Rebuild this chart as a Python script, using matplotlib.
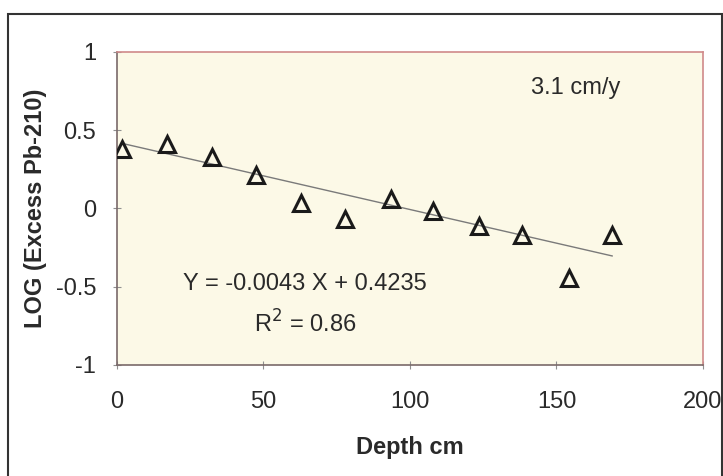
import matplotlib
matplotlib.use("Agg")
import matplotlib.pyplot as plt
from matplotlib.patches import Rectangle
import numpy as np

# depth (cm) and log of excess Pb-210
depth = [1.6, 17, 32.3, 47.4, 62.8, 77.8, 93.4, 108, 123.6, 138.3, 154.3, 169]
log_pb = [0.38, 0.41, 0.327, 0.217, 0.032, -0.066, 0.062, -0.017, -0.113, -0.172, -0.446, -0.172]
slope, intercept = -0.0043, 0.4235
x_ticks = [0, 50, 100, 150, 200]
y_ticks = [-1, -0.5, 0, 0.5, 1]
y_tick_labels = ["-1", "-0.5", "0", "0.5", "1"]

plt.rcParams['font.family'] = ['Liberation Sans', 'DejaVu Sans']
FS = 17

fig = plt.figure(figsize=(7.23, 4.76), dpi=100)
ax = fig.add_axes([0.1618, 0.2332, 0.8105, 0.6576])
ax.set_facecolor('#fcf9e7')

# fitted line over the data range
xl = np.array([depth[0], depth[-1]])
ax.plot(xl, slope * xl + intercept, color='#7a7a7a', lw=1.0, zorder=2)
ax.plot(depth, log_pb, linestyle='none', marker='^', markersize=11,
        markerfacecolor='none', markeredgecolor='#1a1a1a', markeredgewidth=2.2, zorder=3)

ax.set_xlim(0, 200)
ax.set_ylim(-1, 1)
ax.set_xticks(x_ticks)
ax.set_yticks(y_ticks)
ax.set_yticklabels(y_tick_labels)
ax.tick_params(axis='both', direction='inout', length=6, width=0.8, color='#909090',
               labelsize=FS, labelcolor='#2a2a2a')
ax.tick_params(axis='x', pad=16)
ax.tick_params(axis='y', pad=12)

for side in ['top', 'right']:
    ax.spines[side].set_color('#d08a8a')
for side in ['left', 'bottom']:
    ax.spines[side].set_color('#7a6a6a')
for s in ax.spines.values():
    s.set_linewidth(1.2)

ax.set_xlabel('Depth cm', fontsize=FS, fontweight='bold', color='#2a2a2a', labelpad=16)
ax.set_ylabel('LOG (Excess Pb-210)', fontsize=FS, fontweight='bold', color='#2a2a2a', labelpad=6)

ax.text(156.7, 0.77, '3.1 cm/y', fontsize=FS, ha='center', va='center', color='#2a2a2a')
ax.text(64, -0.48, 'Y = -0.0043 X + 0.4235', fontsize=FS, ha='center', va='center', color='#2a2a2a')
ax.text(64.2, -0.735, 'R$^2$ = 0.86', fontsize=FS, ha='center', va='center', color='#2a2a2a')

# outer frame
fig.add_artist(Rectangle((8 / 723, -0.02), 714 / 723, 1.02 - 14 / 476, transform=fig.transFigure,
                         fill=False, edgecolor='#333333', lw=1.5))

fig.savefig('out.png', dpi=100)
